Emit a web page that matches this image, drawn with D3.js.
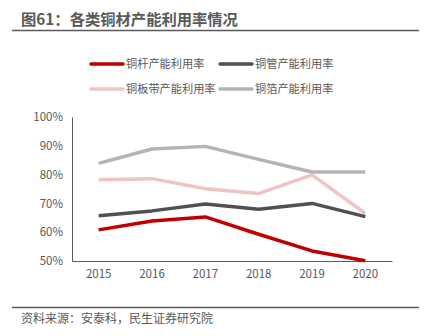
<!DOCTYPE html>
<html lang="zh">
<head>
    <meta charset="utf-8"/>
    <title>图61：各类铜材产能利用率情况</title>
    <script src="https://d3js.org/d3.v7.min.js"></script>
    <style>
        body { margin: 0; background: #fff; }
        svg text { font-family: "Noto Sans CJK SC", "Noto Sans", sans-serif; }
    </style>
</head>
<body>
<svg width="428" height="336"></svg>

<script type="text/javascript">
    // datos
    const years = ["2015", "2016", "2017", "2018", "2019", "2020"];
    const seriesNames = ["铜杆产能利用率", "铜管产能利用率", "铜板带产能利用率", "铜箔产能利用率"];
    const rodValues = [60.8, 63.9, 65.3, 59.3, 53.5, 50.1];
    const tubeValues = [65.7, 67.4, 69.8, 68.0, 70.0, 65.4];
    const stripValues = [78.2, 78.6, 75.1, 73.4, 79.9, 66.5];
    const foilValues = [83.9, 88.9, 89.8, 85.3, 80.9, 80.9];
    const yTicks = [50, 60, 70, 80, 90, 100];

    const colors = ["#c00000", "#505050", "#f0c4c4", "#b4b4b4"];
    const allSeries = [rodValues, tubeValues, stripValues, foilValues];

    const svg = d3.select("svg");

    // título
    svg.append("text")
        .attr("x", 21).attr("y", 25)
        .style("font-size", "15.3px")
        .style("font-weight", "bold")
        .style("fill", "#595959")
        .text("图61：各类铜材产能利用率情况");

    svg.append("line")
        .attr("x1", 12).attr("x2", 419)
        .attr("y1", 30.5).attr("y2", 30.5)
        .attr("stroke", "#595959").attr("stroke-width", 1.5);

    // escalas
    const x = d3.scaleBand().domain(years).range([72, 392]);
    const y = d3.scaleLinear().domain([50, 100]).range([261, 117]);

    // ejes
    const xAxis = svg.append("g")
        .attr("transform", "translate(0,261)")
        .call(d3.axisBottom(x).tickSize(0).tickPadding(9));
    const yAxis = svg.append("g")
        .attr("transform", "translate(72,0)")
        .call(d3.axisLeft(y).tickValues(yTicks).tickSize(0).tickPadding(9)
            .tickFormat(d => d + "%"));

    [xAxis, yAxis].forEach(g => {
        g.select(".domain").attr("stroke", "#595959").attr("stroke-width", 1);
        g.selectAll("text")
            .style("font-size", "11.5px")
            .style("fill", "#595959")
            .style("font-family", "'Noto Sans CJK SC', 'Noto Sans', sans-serif");
    });

    // líneas
    const line = d3.line()
        .x((d, i) => x(years[i]) + x.bandwidth() / 2)
        .y(d => y(d));

    // orden de dibujo: las claras atrás
    [3, 2, 1, 0].forEach(k => {
        svg.append("path")
            .attr("d", line(allSeries[k]))
            .attr("fill", "none")
            .attr("stroke", colors[k])
            .attr("stroke-width", 3.5)
            .attr("stroke-linejoin", "round");
    });

    // leyendas
    const legendPos = [[91, 64], [220, 64], [91, 89], [220, 89]];
    seriesNames.forEach((name, k) => {
        const [lx, ly] = legendPos[k];
        svg.append("line")
            .attr("x1", lx).attr("x2", lx + 32)
            .attr("y1", ly).attr("y2", ly)
            .attr("stroke", colors[k])
            .attr("stroke-width", 3.5)
            .attr("stroke-linecap", "round");
        svg.append("text")
            .attr("x", lx + 35).attr("y", ly)
            .attr("dy", "0.35em")
            .style("font-size", "11.2px")
            .style("fill", "#595959")
            .text(name);
    });

    // fuente
    svg.append("line")
        .attr("x1", 12).attr("x2", 419)
        .attr("y1", 307.5).attr("y2", 307.5)
        .attr("stroke", "#595959").attr("stroke-width", 1.5);

    svg.append("text")
        .attr("x", 21).attr("y", 319)
        .attr("dy", "0.35em")
        .style("font-size", "12px")
        .style("fill", "#595959")
        .text("资料来源：安泰科，民生证券研究院");
</script>
</body>
</html>
